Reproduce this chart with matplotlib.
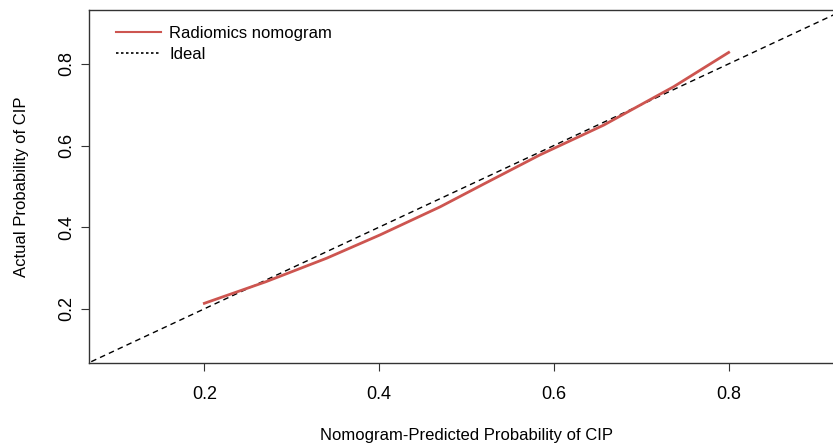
import numpy as np
import matplotlib
matplotlib.use('Agg')
import matplotlib.pyplot as plt
from matplotlib.lines import Line2D

plt.rcParams['font.family'] = ['Liberation Sans', 'DejaVu Sans']

# calibration curve (predicted vs observed probability)
predicted = [0.200, 0.270, 0.340, 0.401, 0.470, 0.520, 0.584, 0.657, 0.737, 0.800]
observed = [0.2135, 0.266, 0.324, 0.381, 0.450, 0.506, 0.577, 0.650, 0.744, 0.828]
ideal = [0.0, 1.0]
ticks = [0.2, 0.4, 0.6, 0.8]
lims = (0.068, 0.932)

red = '#CD5550'

fig = plt.figure(figsize=(8.33, 4.46), dpi=100)
ax = fig.add_axes([89 / 833, 83.3 / 446, 755 / 833, 352.7 / 446])

ax.plot(ideal, ideal, color='black', lw=1, dashes=(4, 3))
ax.plot(predicted, observed, color=red, lw=2)

ax.set_xlim(lims)
ax.set_ylim(lims)
ax.set_xticks(ticks)
ax.set_yticks(ticks)
ax.set_xticklabels([str(t) for t in ticks])
ax.set_yticklabels([str(t) for t in ticks], rotation=90, va='center')
ax.tick_params(axis='both', direction='out', length=5.5, width=0.8,
               labelsize=13, color='#333333')
ax.tick_params(axis='x', pad=11.5)
ax.tick_params(axis='y', pad=4.5)
for side in ['left', 'bottom', 'top']:
    ax.spines[side].set_linewidth(1)
    ax.spines[side].set_color('#333333')
ax.spines['right'].set_visible(False)

ax.set_xlabel('Nomogram-Predicted Probability of CIP', fontsize=12, labelpad=18)
ax.set_ylabel('Actual Probability of CIP', fontsize=12, labelpad=21)

handles = [Line2D([], [], color=red, lw=1.5),
           Line2D([], [], color='black', lw=1.2, linestyle=(0, (1.5, 1.5)))]
ax.legend(handles, ['Radiomics nomogram', 'Ideal'], loc='upper left',
          frameon=False, fontsize=12, handlelength=2.7, handletextpad=0.5,
          labelspacing=0.35, borderaxespad=0.6, bbox_to_anchor=(0.0134, 1.0027))

fig.savefig('out.png', dpi=100)
